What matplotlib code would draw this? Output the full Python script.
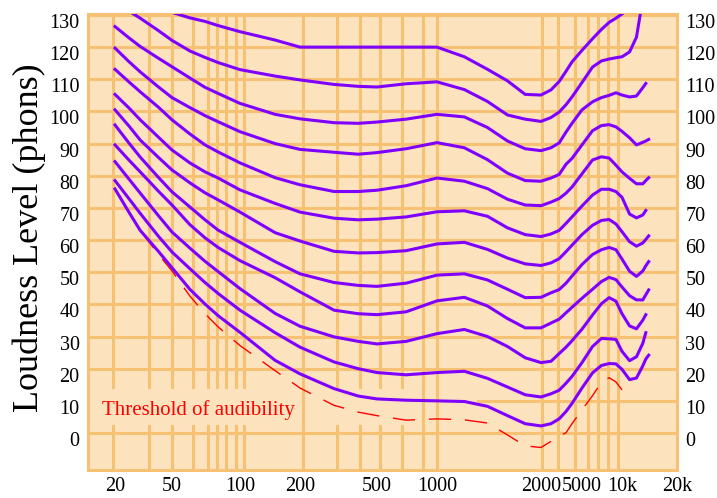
import numpy as np
import matplotlib
matplotlib.use("Agg")
import matplotlib.pyplot as plt
from matplotlib.ticker import NullLocator
from matplotlib.transforms import ScaledTranslation

plt.rcParams['font.family'] = ['Liberation Serif', 'DejaVu Serif']

nan = np.nan

freq = np.array([20, 25, 30, 40, 50, 60, 70, 80,
                 100, 150, 200, 300, 400, 500, 700,
                 1000, 1200, 1400, 1600, 1800,
                 2000, 2500, 3000, 3500, 4000,
                 5000, 6000, 7000, 8000, 9000,
                 10000, 11000, 12000, 13000, 13500, 14000])

# sound level of each equal loudness curve (named by the level at 1 kHz)
phon120 = [nan, nan, nan, nan, 130.8, 129.1, 128.0, 126.7,
           124.8, 122.2, 120.0, 120.0, 120.0, 120.0, 120.0,
           120.0, 117.0, 113.1, 109.5, 105.3,
           105.1, 106.7, 109.3, 112.5, 115.4,
           119.0, 122.6, 125.5, 127.7, 129.0,
           130.3, nan, nan, nan, nan, nan]
phon110 = [nan, 131.2, 129.0, 125.2, 122.1, 118.8, 116.8, 115.2,
           113.0, 111.0, 109.8, 108.4, 107.8, 107.6, 108.6,
           109.2, 106.8, 103.1, 98.9, 97.6,
           96.9, 98.1, 99.8, 102.1, 104.5,
           109.0, 113.8, 115.7, 116.3, 116.7,
           117.0, 118.5, 123.1, 135.0, nan, nan]
phon100 = [126.4, 122.9, 120.2, 116.6, 113.9, 110.4, 107.5, 105.6,
           102.5, 99.1, 97.7, 96.5, 96.3, 96.7, 97.6,
           99.1, 98.3, 95.0, 90.8, 88.4,
           87.8, 88.7, 90.2, 93.6, 96.3,
           100.5, 103.0, 104.3, 105.0, 105.8,
           105.1, 104.5, 104.8, 107.4, 108.7, nan]
phon90 = [119.7, 115.5, 112.3, 107.7, 104.3, 101.2, 98.7, 96.8,
          93.7, 90.0, 88.2, 87.3, 86.7, 87.2, 88.4,
          90.3, 88.7, 85.0, 80.8, 78.5,
          78.3, 79.3, 80.4, 83.6, 85.4,
          89.6, 94.0, 95.6, 95.9, 95.2,
          93.8, 91.8, 89.6, 90.4, 90.8, 91.3]
phon80 = [113.1, 109.2, 106.1, 101.4, 97.4, 93.0, 89.6, 87.4,
          84.0, 79.4, 77.2, 75.1, 75.1, 75.5, 76.9,
          79.3, 78.3, 76.0, 72.7, 70.9,
          70.7, 71.8, 72.9, 74.6, 76.5,
          80.6, 84.9, 85.9, 85.5, 83.3,
          81.2, 79.2, 77.5, 77.5, 78.5, 79.4]
phon70 = [105.3, 101.1, 97.4, 92.1, 88.0, 84.0, 81.2, 79.3,
          75.6, 71.4, 68.7, 66.8, 66.3, 66.5, 67.2,
          68.8, 69.1, 67.4, 63.8, 61.7,
          61.1, 61.9, 63.0, 65.2, 67.2,
          70.6, 74.0, 75.8, 75.8, 75.1,
          73.3, 68.1, 66.9, 67.8, 69.2, nan]
phon60 = [100.5, 95.5, 91.1, 85.8, 81.8, 77.8, 74.7, 72.5,
          68.7, 62.3, 59.7, 56.5, 56.0, 56.1, 56.7,
          58.8, 59.3, 57.1, 54.4, 52.6,
          52.1, 52.9, 54.2, 56.4, 58.4,
          61.7, 64.6, 66.1, 66.4, 65.0,
          62.6, 59.5, 58.1, 59.1, 60.2, 61.3]
phon50 = [95.8, 90.2, 85.8, 79.6, 75.0, 70.3, 66.3, 63.1,
          59.3, 53.3, 49.5, 46.8, 45.9, 45.6, 46.6,
          49.1, 49.5, 47.6, 44.7, 42.1,
          42.2, 43.6, 44.6, 46.6, 48.8,
          52.4, 55.5, 57.0, 57.7, 57.0,
          54.1, 50.3, 48.7, 50.4, 52.0, 53.3]
phon40 = [89.6, 84.9, 81.2, 75.3, 70.9, 64.8, 60.7, 57.7,
          53.6, 48.3, 43.9, 38.2, 37.1, 36.8, 37.7,
          41.1, 42.2, 39.5, 35.6, 32.7,
          32.7, 34.2, 35.4, 37.4, 39.1,
          41.9, 44.7, 47.1, 48.4, 47.7,
          45.4, 42.7, 41.4, 41.4, 43.0, 44.5]
phon30 = [84.4, 79.0, 74.6, 67.7, 62.5, 57.5, 53.4, 50.2,
          44.9, 37.2, 33.2, 29.9, 28.5, 27.7, 28.5,
          30.9, 32.2, 30.0, 26.9, 23.4,
          21.9, 22.3, 24.7, 26.7, 28.7,
          32.3, 36.7, 40.2, 42.1, 41.0,
          37.1, 33.3, 32.4, 35.1, 36.8, nan]
phon20 = [78.5, 72.9, 68.3, 61.3, 56.3, 51.1, 46.8, 43.4,
          38.2, 31.2, 26.7, 22.1, 20.0, 18.8, 18.1,
          18.8, 19.2, 17.0, 14.3, 11.9,
          11.2, 12.2, 13.3, 15.5, 17.6,
          21.9, 26.9, 29.4, 29.3, 29.1,
          25.4, 22.5, 23.7, 27.9, 31.2, nan]
phon10 = [75.9, 68.7, 63.0, 56.6, 51.4, 44.7, 40.1, 36.5,
          31.3, 22.6, 18.4, 13.8, 11.5, 10.6, 10.2,
          10.0, 9.8, 8.3, 5.4, 2.9,
          2.2, 2.9, 4.4, 6.7, 9.2,
          14.0, 18.7, 21.0, 21.6, 21.5,
          19.8, 16.6, 17.1, 20.9, 23.0, 24.2]
threshold = [nan, nan, 63.0, 55.7, 50.4, 42.6, 37.1, 33.0,
             27.2, 19.4, 14.0, 8.6, 6.5, 5.4, 4.0,
             4.4, 4.1, 3.1, -0.6, -4.0,
             -4.5, -2.6, -1.0, 0.1, 2.9,
             7.2, 11.6, 15.8, 17.2, 15.9,
             13.4, nan, nan, nan, nan, nan]

curves = [phon120, phon110, phon100, phon90, phon80, phon70,
          phon60, phon50, phon40, phon30, phon20, phon10]

tick_freqs = [20, 50, 100, 200, 500, 1000, 2000, 5000, 10000, 20000]
tick_labels = ['20', '50', '100', '200', '500', '1000', '2000', '5000', '10k', '20k']
level_ticks = np.arange(0, 131, 10)

# the frequency axis of the original is hand drawn: log-like but uneven,
# so it gets its own piecewise scale
axis_freqs = [12.9, 20, 50, 100, 200, 500, 1000, 2000, 5000, 10000, 20000]
axis_pos = [88, 115, 172, 240, 300, 377, 437, 541, 582, 622, 677]

# vertical grid lines (Hz); the "cut" ones leave room for the label
grid_cut = [19.4, 34.5, 50, 61.9, 72.1, 79.1, 86.7, 95.9, 104.7,
            311, 409, 517.5, 667.7]
grid_full = [207.4, 851, 1000, 2045, 2924, 4277, 5548, 6595, 7845, 9325]

bg = '#fce3bd'
grid_col = '#f6c172'
purple = '#8000ff'


def fwd(f):
    f = np.clip(np.asarray(f, dtype=float), 1e-6, None)
    return np.interp(np.log10(f), np.log10(axis_freqs), axis_pos)


def inv(p):
    return 10 ** np.interp(np.asarray(p, dtype=float), axis_pos, np.log10(axis_freqs))


fig = plt.figure(figsize=(7.17, 4.98), dpi=100)
ax = fig.add_axes([88 / 717, 28 / 498, 589 / 717, 456 / 498])
ax.set_xscale('function', functions=(fwd, inv))
ax.set_xlim(12.9, 20000)
ax.set_ylim(-11.5, 130.3)
ax.set_facecolor(bg)

# grid
for lv in level_ticks:
    if lv == 10:
        ax.axhline(lv, xmin=0.662, xmax=1, color=grid_col, lw=2.2, zorder=1)
    else:
        ax.axhline(lv, color=grid_col, lw=2.2, zorder=1)
for f in grid_full:
    ax.axvline(f, color=grid_col, lw=2.2, zorder=1)
for f in grid_cut:
    ax.axvline(f, ymin=0, ymax=0.0966, color=grid_col, lw=2.2, zorder=1)
    ax.axvline(f, ymin=0.182, ymax=1, color=grid_col, lw=2.2, zorder=1)

# threshold of audibility
th = np.array(threshold, dtype=float)
m = ~np.isnan(th)
ax.plot(freq[m], th[m], color='red', lw=1.0, dashes=(16, 10), zorder=2)
ax.text(16.2, 5.6, 'Threshold of audibility', color='red', fontsize=15,
        ha='left', va='baseline', zorder=4)

for c in curves:
    v = np.array(c, dtype=float)
    m = ~np.isnan(v)
    ax.plot(freq[m], v[m], color=purple, lw=2.2, zorder=3)

for sp in ax.spines.values():
    sp.set_color(grid_col)
    sp.set_linewidth(2.2)

ax.set_xticks(tick_freqs)
ax.set_xticklabels(tick_labels)
ax.xaxis.set_minor_locator(NullLocator())
ax.set_yticks(level_ticks)
ax.tick_params(length=0, labelsize=14.5, colors='black')
ax.tick_params(axis='y', labelleft=True, labelright=True, pad=6)
ax.tick_params(axis='x', pad=5)

# tick labels on the level axis sit a bit under their grid line
offset = ScaledTranslation(0, -0.06, fig.dpi_scale_trans)
for t in ax.yaxis.get_major_ticks():
    t.label1.set_transform(t.label1.get_transform() + offset)
    t.label2.set_transform(t.label2.get_transform() + offset)

ax.set_ylabel('Loudness Level (phons)', fontsize=26)
ax.yaxis.set_label_coords(-0.072, 0.51)

fig.savefig('out.png', dpi=100)
